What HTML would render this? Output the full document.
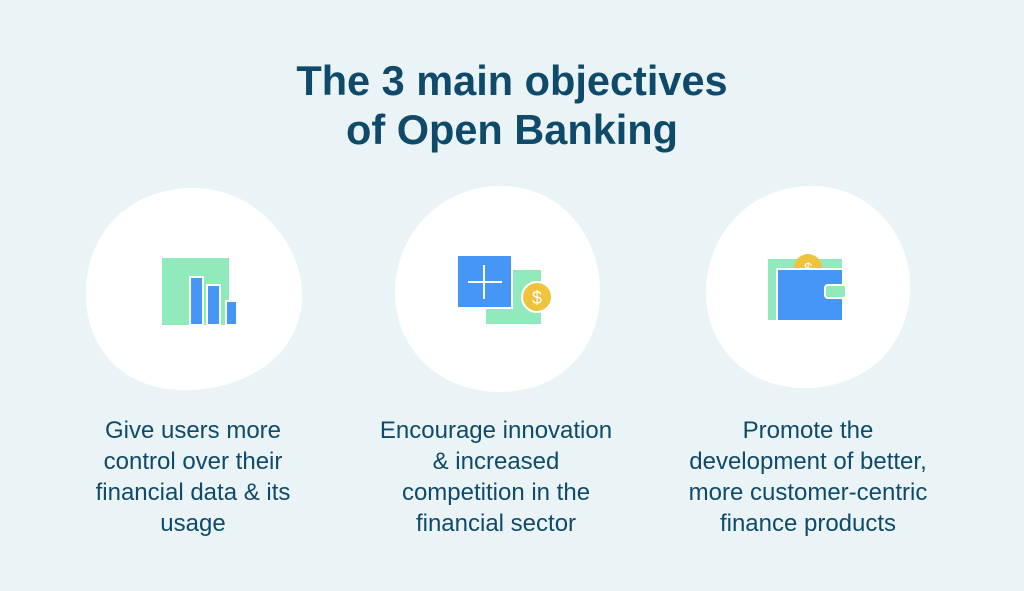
<!DOCTYPE html>
<html><head><style>
body{margin:0;width:1024px;height:591px;background:#eaf4f6;font-family:"Liberation Sans",sans-serif;position:relative;overflow:hidden;color:#0f4a6a}
h1{position:absolute;top:56px;left:0;width:1024px;margin:0;text-align:center;font-size:41.5px;line-height:49px;font-weight:bold;color:#0f4a6a}
.t{position:absolute;top:415px;width:320px;text-align:center;font-size:24px;line-height:31px}
svg{position:absolute;left:0;top:0}
</style></head><body>
<h1>The 3 main objectives<br>of Open Banking</h1>
<svg width="1024" height="591">
<path d="M190 188 C260 186 305 250 302 300 C298 360 240 392 180 390 C120 388 84 345 86 290 C88 230 130 190 190 188Z" fill="#fff"/>
<path d="M500 186 C565 186 600 240 600 292 C600 350 560 392 500 392 C440 392 395 350 395 292 C395 235 440 186 500 186Z" fill="#fff"/>
<path d="M815 186 C875 188 912 240 910 290 C908 350 862 390 800 388 C745 386 705 345 706 290 C707 235 750 184 815 186Z" fill="#fff"/>
<rect x="162" y="258" width="67" height="67" fill="#91eabc"/>
<rect x="190" y="277" width="13" height="48" fill="#4596f6" stroke="#fff" stroke-width="2"/>
<rect x="207" y="285" width="13" height="40" fill="#4596f6" stroke="#fff" stroke-width="2"/>
<rect x="226" y="301" width="11" height="24" fill="#4596f6" stroke="#fff" stroke-width="2"/>
<rect x="486" y="270" width="55" height="54" fill="#91eabc"/>
<rect x="457" y="255" width="55" height="53" fill="#4596f6" stroke="#fff" stroke-width="2"/>
<path d="M484 265v34M468 282h34" stroke="#fff" stroke-width="2"/>
<circle cx="537" cy="297" r="15" fill="#f0c33c" stroke="#fff" stroke-width="2"/>
<text x="537" y="304" font-size="18" fill="#fff" text-anchor="middle" font-family="Liberation Sans">$</text>
<rect x="768" y="259" width="74" height="61" fill="#91eabc"/>
<circle cx="808" cy="268" r="14" fill="#f0c33c"/>
<text x="808" y="273" font-size="15" fill="#fff" text-anchor="middle" font-family="Liberation Sans">$</text>
<rect x="777" y="269" width="66" height="52" fill="#4596f6" stroke="#fff" stroke-width="2"/>
<rect x="825" y="285" width="21" height="13" rx="3" fill="#91eabc" stroke="#fff" stroke-width="2"/>
</svg>
<div class="t" style="left:33px">Give users more<br>control over their<br>financial data &amp; its<br>usage</div>
<div class="t" style="left:336px">Encourage innovation<br>&amp; increased<br>competition in the<br>financial sector</div>
<div class="t" style="left:648px">Promote the<br>development of better,<br>more customer-centric<br>finance products</div>
</body></html>
